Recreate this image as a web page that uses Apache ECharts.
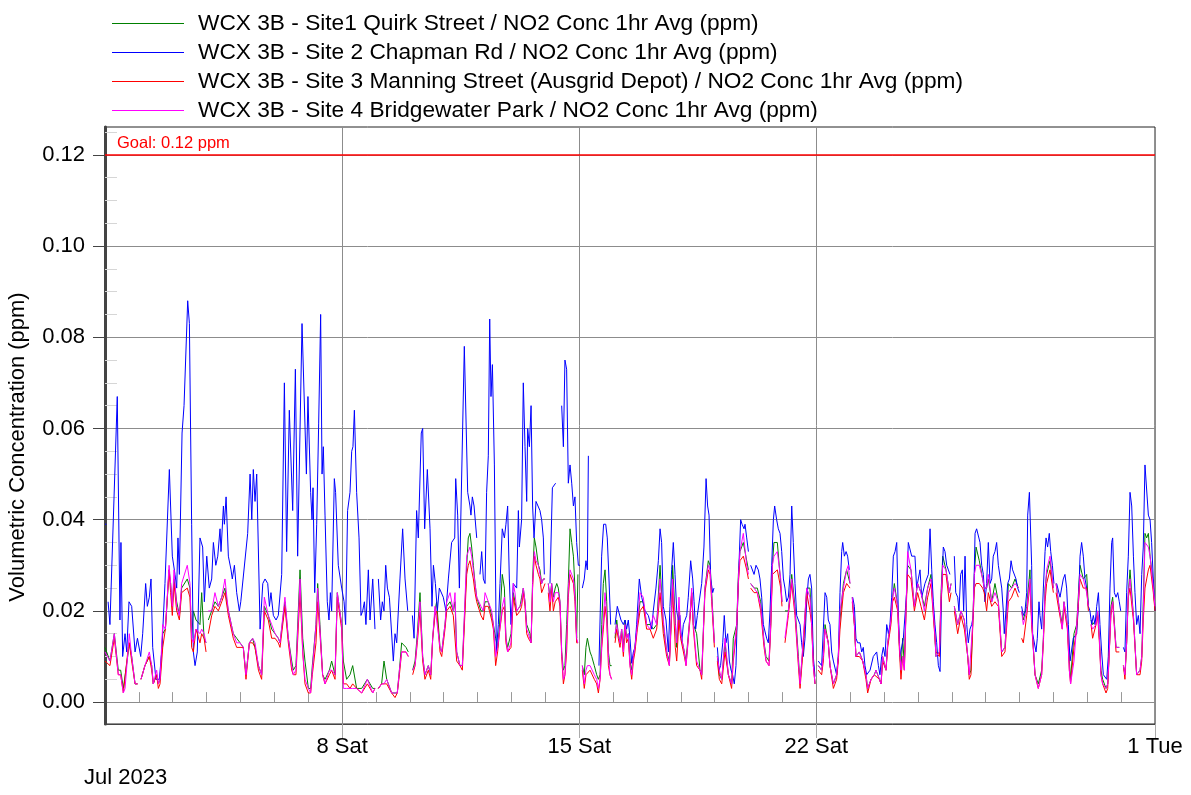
<!DOCTYPE html>
<html>
<head>
<meta charset="utf-8">
<title>WCX 3B NO2 Conc 1hr Avg</title>
<script src="https://cdn.jsdelivr.net/npm/echarts@6/dist/echarts.min.js"></script>
<style>
html, body { margin: 0; padding: 0; background: #fff; }
#chart { width: 1191px; height: 795px; }
</style>
</head>
<body>
<div id="chart"></div>
<script>
const fontFamily = 'Liberation Sans, Arial, sans-serif'

const seriesNames = [
  'WCX 3B - Site1 Quirk Street / NO2 Conc 1hr Avg (ppm)',
  'WCX 3B - Site 2 Chapman Rd / NO2 Conc 1hr Avg (ppm)',
  'WCX 3B - Site 3 Manning Street (Ausgrid Depot) / NO2 Conc 1hr Avg (ppm)',
  'WCX 3B - Site 4 Bridgewater Park / NO2 Conc 1hr Avg (ppm)'
]
const colors = ['#008000', '#0000ff', '#ff0000', '#ff00ff']

// x is hours since 1 Jul 2023 00:00
const tickHours = [168, 336, 504, 744]
const tickLabels = ['8 Sat', '15 Sat', '22 Sat', '1 Tue']
const dayHours = [24, 48, 72, 96, 120, 144, 192, 216, 240, 264, 288, 312, 360, 384, 408, 432, 456, 480, 528, 552, 576, 600, 624, 648, 672, 696, 720]
const yTicks = [0, 0.02, 0.04, 0.06, 0.08, 0.10, 0.12]
const yMinor = [0.005, 0.01, 0.015, 0.025, 0.03, 0.035, 0.045, 0.05, 0.055, 0.065, 0.07, 0.075, 0.085, 0.09, 0.095, 0.105, 0.11, 0.115, 0.125]
const goal = 0.12

// sites 1, 3, 4 share one time list
const lowHours = [
  0, 3.5, 6.6, 9.4, 11.1, 13, 14.2, 16.5, 17.2, 18.9, 21.3, 23.1, 24.2, 25.5, 28.3, 31.4, 33.1, 34.2, 36.6, 37.8,
  39, 40.9, 42.8, 45.4, 46.5, 47.7, 48.9, 50.8, 52.7, 54.3, 58.3, 60.2, 61.4, 62.6, 64.5, 67.3, 68.5, 70.2, 71.6, 72.4,
  73.2, 75.6, 77.9, 80.3, 82.7, 85, 87.4, 90.9, 93.3, 95.7, 98, 99.9, 102.3, 104.6, 106.3, 108.7, 111, 112.9, 115.7, 118.1,
  120.5, 122.8,
  124, 127.5, 129.9, 132.3, 133.4, 135.3, 138.2, 140.1, 141.7, 144.1, 145.7, 146.9, 149.5, 150.7, 152.3, 154.2, 155.9, 159, 160.6, 163,
  164.6, 167.7, 168.9, 171.2, 173.6, 175.5, 178.3, 181.9, 185.9, 189.7, 191.3, 192.5, 193.7, 196, 197.7, 199.6, 203.1, 205.5, 207.1, 208.6,
  210.2, 213.3, 214.9, 216, 218, 219.7, 221.3, 223.2, 225.1, 226.7, 229.1, 230.8, 232.2, 233.8, 235, 237.4, 238.6, 240.9, 242.1, 244.5,
  246.8,
  248, 249.2, 251.5, 253.2, 256.3, 257.4, 258.6, 259.8, 261, 262.2, 263.4, 266.4, 268.1, 269.3, 271.6, 274, 275.2, 276.8, 278.2, 279.4,
  281.5, 283, 284.1, 285.3, 287.7, 289.3, 290.5, 291.7, 292.9, 294.1, 295.2, 296.4, 297.6, 298.8, 300, 301.1, 301.9, 303, 304.2, 305.4,
  307.1, 308.2, 309.4, 310.6, 311.8, 312.8, 314.1, 315.3, 316.5, 317.7, 319, 320.1, 321.2, 322.4, 323.6, 324.8, 325.9, 327.1, 328.3, 329.5,
  330.7, 331.9, 333, 334.2, 335.1, 336.5, 338.2, 339.6, 340.8, 341.8, 343.7, 344.9, 346.7, 348.4, 349.6, 350.8, 352, 353.1, 354.3, 355.5,
  356.7, 357.8, 359, 360, 361.4, 362.6, 363.7, 364.9, 366.1, 367.3, 368.5, 369.6, 370.8, 372, 373.2, 374.4, 375.5,
  377.2, 379.1, 381.4, 383.8, 386.2, 388.5, 390.9, 393.3, 395.6, 398, 399.9, 401.5, 402.2, 404.1, 405.1, 406.7, 407.9, 410.5, 411.7, 414.5,
  415.7, 416.9, 419.2, 421.6, 422.8, 425.1, 427.5, 428.7, 429.9, 431.8, 432.5, 433.9, 435.3, 437, 439.3, 441.7, 444, 445.2, 447.6, 448.8,
  449.9, 452.3, 454.7, 455.9, 457, 457.5, 459.9, 462.2, 464.6, 467, 468.4, 470.5, 471.7, 472.9, 474, 476.4, 478.8, 479.7, 481, 481.8,
  484.2, 486.6, 488.9, 491.3, 492.5, 494.8, 497.2, 499.5,
  500.7, 501.9, 503.1, 504.5, 505.4, 507.8, 509, 510.2, 512.5, 513.7, 516.1, 518.4, 519.6, 520.8, 523.2, 525.5, 526.7, 527.9, 528.7, 529.5,
  531, 532.1, 534.5, 536.9, 539.2, 540.4, 542.8, 545.1, 546.3, 548.7, 549.9, 551, 553.4, 554.6, 556.9, 558.1, 559.3, 561.7, 562.8, 564,
  565.2, 566.4, 567.6, 568.7, 571.1, 573.5, 575.8, 578.2, 580.6, 582.9, 585.3, 587.6, 588.8, 591.2, 592.4, 593.6, 595.9, 598.3, 599.5, 600.5,
  601.8, 604.2, 606.5, 608.9, 611.3, 612.4, 613.6, 614.8, 616, 617.2, 619.5, 621.9, 623,
  624.7, 625.9, 628.3, 630.6, 633, 635.4, 637.7, 640.1, 642.4, 644.8, 647.2, 648.5, 649.5, 650.7, 653.1, 655.4, 656.6, 659, 661.3, 663.7,
  664.9, 666.1, 667.2, 669.6, 672, 673, 673.9, 676, 678.3, 679.5, 681.9, 683.3, 684.2, 686.6, 688.5, 690.9, 693.2, 695.6, 696.8, 697.8,
  698.7, 699.8, 702.2, 703.4, 704.6, 705.7, 706.9, 709.3, 710.5, 711.6, 712.8, 714, 716.4, 718.7, 720, 721.6, 722.7, 723.9, 725.1, 726.3,
  728.7, 731, 733.4, 734.6, 735.7, 736.9, 738.1, 739.3, 740.5, 742.8, 744
]

const site1 = [
  .012, .009, .015, .007, .007, .003, .003, .011, .013, .010, .004, .004, null, .005, .008, .010, .008, .004, .006, .004,
  .005, .015, .016, .029, .026, .021, .027, .022, .019, .025, .027, .025, .014, .020, .018, .017, .024, .014, .013, null,
  .018, .020, .022, .021, .023, .025, .020, .015, .014, .013, .012, .006, .013, .014, .012, .008, .006, .021, .019, .016,
  .015, .014,
  .013, .022, .014, .009, .007, .008, .029, .014, .009, .003, .003, .008, .017, .026, .017, .006, .005, .007, .009, .006,
  .024, .017, .009, .005, .006, .008, .003, .003, .005, .003, .003, null, .003, .004, .009, .005, .002, .002, .002, .007,
  .013, .012, .011, null, .007, .009, .015, .024, .010, .006, .008, .006, .014, .020, .022, .012, .011, .017, .021, .022,
  .020,
  .022, .011, .008, .008, .030, .036, .037, .034, .030, .026, .023, .020, .020, .022, .022, .019, .017, .014, .012, .016,
  .028, .025, .014, .012, .015, .024, .024, .020, .020, .021, .023, .025, .022, .017, .016, .015, .013, .027, .036, .034,
  .030, .029, .026, .027, .027, null, .026, .023, .026, .023, .025, .026, .025, .022, .011, .007, .008, .017, .026, .038,
  .035, .032, .025, .014, .028, null, .008, .006, .012, .014, .011, .010, .008, .006, .005, .006, .017, .026, .029, .022,
  .011, .008, .008, null, .014, .018, .015, .013, .016, .012, .018, .014, .015, .009, .007, .010, .012,
  .017, .022, .022, .017, .017, .016, .017, .030, .017, .011, .009, .020, .030, .018, .012, .020, .015, .011, .009, .019,
  .024, .017, .015, .007, .006, .025, .031, .030, .024, .013, null, .010, .006, .005, .013, .006, .004, .014, .017, .028,
  .033, .035, .031, .029, null, .026, .025, .025, .022, .013, .010, .009, .017, .030, .035, .035, .026, .022, null, .020,
  .020, .028, .021, .010, .004, .013, .025, .025,
  .018, .009, .004, null, .008, .007, .010, .017, .013, .008, .004, .006, .010, .018, .026, .029, .029, .026, null, .023,
  .017, .010, .011, .009, .006, .003, .005, .006, .007, .005, .004, .010, .007, .013, .018, .023, .026, .021, .013, .007,
  .014, .008, .021, .030, .029, .021, .026, .024, .021, .025, .028, .017, .010, .011, .024, .032, .029, .024, .026, null,
  .021, .017, .020, .018, .010, .006, .007, .017, .028, .034, .031, .027, .025,
  .025, .027, .022, .026, .022, .011, .012, .026, .025, .027, .025, null, .020, .018, .021, .029, .018, .006, .004, .007,
  .014, .025, .028, .031, .025, null, .026, .021, .017, .022, .017, .009, .005, .015, .017, .030, .027, .028, .021, null,
  .018, .017, .018, .020, .014, .007, .005, .003, .004, .011, .021, .023, .012, .012, null, .008, .006, .013, .024, .029,
  .019, .006, .007, .010, .022, .037, .036, .037, .032, .026, .020
]

const site3 = [
  .009, .008, .014, .006, .006, .002, .002, .012, .013, .009, .004, .004, null, .005, .008, .010, .007, .004, .006, .003,
  .004, .012, .016, .029, .024, .019, .026, .020, .018, .024, .025, .023, .012, .011, .016, .013, .015, .014, .011, null,
  .015, .019, .021, .020, .022, .024, .019, .014, .012, .012, .012, .005, .013, .013, .012, .007, .005, .020, .018, .014,
  .014, .013,
  .012, .021, .013, .007, .006, .006, .024, .011, .004, .002, .002, .006, .013, .022, .015, .006, .004, .006, .007, .005,
  .023, .016, .004, .004, .003, .004, .003, .002, .004, .002, .003, null, .003, .004, .004, .004, .002, .001, .002, .006,
  .011, .011, .010, null, .006, .008, .013, .020, .009, .005, .007, .005, .014, .019, .020, .011, .010, .016, .020, .021,
  .019,
  .019, .009, .008, .007, .028, .030, .031, .029, .027, .024, .022, .019, .018, .021, .021, .018, .016, .008, .011, .015,
  .020, .021, .013, .011, .012, .023, .023, .019, .019, .020, .021, .024, .021, .015, .014, .014, .013, .025, .032, .030,
  .028, .027, .024, .025, .026, null, .024, .020, .025, .020, .022, .022, .023, .021, .010, .004, .006, .011, .023, .028,
  .027, .026, .022, .013, .013, null, .007, .003, .006, .006, .007, .007, .005, .004, .002, .005, .012, .016, .021, .018,
  .008, .006, .005, null, .013, .016, .014, .012, .015, .010, .016, .013, .014, .008, .005, .009, .011,
  .016, .020, .021, .016, .016, .014, .016, .024, .015, .010, .008, .019, .025, .012, .009, .018, .014, .010, .008, .018,
  .024, .016, .008, .007, .005, .024, .029, .028, .022, .012, null, .009, .005, .004, .011, .006, .003, .009, .016, .026,
  .031, .032, .029, .027, null, .025, .024, .024, .020, .012, .009, .008, .016, .028, .028, .029, .025, .021, null, .013,
  .019, .026, .019, .008, .003, .012, .024, .020,
  .017, .008, .004, null, .007, .006, .009, .016, .013, .008, .003, .005, .009, .016, .024, .026, .026, .025, null, .022,
  .017, .010, .010, .009, .005, .002, .005, .006, .006, .005, .004, .009, .007, .012, .017, .022, .023, .020, .012, .005,
  .010, .007, .020, .028, .027, .020, .024, .021, .018, .023, .026, .016, .011, .010, .022, .028, .028, .022, .024, null,
  .020, .015, .019, .016, .010, .005, .006, .016, .025, .026, .026, .025, .024,
  .020, .024, .021, .022, .021, .010, .011, .022, .023, .025, .023, null, .014, .013, .019, .026, .017, .006, .003, .006,
  .013, .022, .026, .029, .024, null, .024, .020, .016, .021, .016, .007, .004, .012, .016, .027, .025, .025, .020, null,
  .017, .014, .017, .019, .013, .006, .004, .002, .003, .011, .019, .022, .011, .011, null, .008, .005, .013, .023, .025,
  .018, .006, .006, .009, .018, .025, .027, .029, .030, .024, .020
]

const site4 = [
  .011, .009, .015, .006, .006, .002, .003, .012, .015, .010, .004, .004, null, .005, .008, .011, .008, .004, .007, .004,
  .005, .017, .016, .030, .026, .021, .029, .021, .019, .026, .030, .026, .014, .013, .016, .015, .016, .015, .013, null,
  .020, .020, .024, .021, .023, .027, .020, .015, .013, .013, .012, .006, .013, .014, .013, .008, .006, .023, .019, .017,
  .015, .014,
  .013, .023, .014, .008, .006, .007, .027, .011, .005, .003, .002, .007, .017, .025, .016, .006, .004, .007, .007, .006,
  .024, .017, .003, .003, .003, .003, .003, .002, .005, .002, .003, null, .003, .004, .004, .005, .002, .002, .002, .007,
  .011, .011, .010, null, .007, .008, .014, .022, .010, .006, .008, .006, .014, .021, .021, .012, .011, .017, .022, .024,
  .020,
  .024, .011, .008, .008, .032, .033, .034, .032, .029, .026, .023, .021, .020, .024, .022, .020, .017, .010, .012, .015,
  .021, .023, .014, .011, .013, .026, .024, .020, .020, .021, .022, .025, .022, .016, .015, .015, .013, .026, .033, .031,
  .030, .028, .026, .027, .027, null, .026, .022, .026, .022, .024, .024, .024, .022, .011, .005, .006, .013, .025, .029,
  .028, .027, .023, .014, .013, null, .008, .004, .007, .008, .008, .008, .006, .005, .003, .005, .013, .018, .024, .019,
  .010, .006, .005, null, .015, .017, .015, .013, .016, .011, .017, .014, .015, .008, .006, .010, .012,
  .017, .024, .023, .017, .016, .019, .017, .027, .018, .011, .008, .021, .027, .017, .013, .023, .015, .011, .008, .019,
  .025, .017, .009, .007, .006, .025, .030, .029, .023, .013, null, .010, .007, .005, .014, .006, .004, .010, .017, .027,
  .033, .037, .030, .028, null, .026, .025, .024, .021, .013, .009, .008, .017, .030, .032, .033, .027, .022, null, .014,
  .020, .027, .020, .009, .004, .014, .025, .023,
  .017, .008, .004, null, .008, .007, .010, .016, .013, .008, .004, .006, .010, .020, .025, .029, .030, .026, null, .023,
  .017, .010, .011, .009, .006, .003, .005, .006, .007, .005, .004, .010, .007, .013, .018, .023, .025, .021, .013, .007,
  .010, .007, .021, .033, .029, .021, .026, .024, .020, .025, .027, .017, .010, .011, .023, .030, .029, .024, .026, null,
  .021, .017, .020, .018, .010, .006, .006, .017, .028, .030, .030, .027, .025,
  .025, .028, .022, .024, .022, .011, .012, .024, .025, .026, .025, null, .020, .017, .020, .027, .018, .006, .003, .006,
  .014, .024, .029, .032, .025, null, .026, .021, .016, .022, .017, .007, .004, .009, .017, .028, .027, .024, .021, null,
  .017, .016, .017, .020, .014, .006, .004, .003, .004, .011, .020, .022, .012, .012, null, .008, .006, .013, .024, .027,
  .019, .006, .007, .010, .020, .035, .035, .034, .032, .025, .021
]

// site 2 has its own gaps, kept as [hour, value]
const site2 = [
  [0, .039], [1, .039], [1.5, null], [2.2, .022], [3.5, .017], [8.7, .067], [10.6, .018], [11.3, .035], [12.5, .010], [14.2, .015],
  [15.4, .011], [17, .022], [18.9, .021], [21.3, .011], [23, .014], [25.3, .010], [26.7, .015], [28.8, .026], [30, .021], [31.4, .023],
  [32.6, .027], [33.8, .012], [36.1, .005], [38.5, .005], [40.2, .011], [42.5, .026], [45.6, .051], [46.5, .051], [47.7, .032], [49.6, .028],
  [50.8, .025], [51.7, .036], [52.7, .028], [54.6, .059], [56, .065], [58.6, .088], [59.8, .083], [61.4, .039], [62.6, .011], [63.8, .008],
  [65.4, .011], [67.3, .036], [69.2, .034], [70.4, .022], [72.1, .032], [73.9, .025], [75.6, .027], [76.8, .035], [78.5, .030], [79.9, .032],
  [81.5, .038], [82.2, .033], [83.9, .043], [84.6, .039], [85.8, .045], [87.4, .032], [89.3, .029], [90.2, .027], [91.7, .030], [93.3, .024],
  [95.2, .020], [96.2, .022], [101.1, .037], [102.8, .050], [104, .040], [105.1, .051], [106.3, .044], [107.5, .050], [109.9, .016], [111.8, .026],
  [113.4, .027], [115.3, .026], [116.5, .021], [117.6, .024], [119.3, .019], [121.2, .018], [122.8, .019], [125.2, .028], [127.1, .070],
  [128.7, .033], [130.6, .064], [133, .042], [134.9, .073], [136.5, .032], [139.6, .083], [142.7, .050], [143.8, .067], [145.7, .046], [146.7, .040],
  [147.4, .047], [148.6, .024], [150, .039], [151.4, .061], [152.8, .085], [153.8, .050], [154.7, .056], [155.9, .041], [157.5, .022], [158.7, .018],
  [159.7, .024], [160.6, .020], [162.5, .049], [163.4, .046], [165.3, .030], [167.7, .025], [169.4, .022], [170.5, .017], [171.9, .042], [173.6, .046],
  [174.8, .055], [175.7, .056], [176.7, .064], [178.3, .046], [180, .036], [181.4, .019], [182.6, .020], [183.8, .022], [184.9, .017], [186.6, .029],
  [187.8, .018], [189.7, .027], [191.3, .016], [192.5, null], [193.7, .027], [195.3, .018], [196.5, .022], [197.7, .020], [198.9, .030], [200.1, .025],
  [201.5, .023], [204.3, .009], [205.5, .015], [206.7, .013], [209, .027], [210.9, .038], [212.6, .027], [214.5, .020], [215.5, null], [217.8, .019],
  [219, .014], [220.8, .042], [222, .036], [224.1, .059], [225.1, .060], [226.5, .038], [228.4, .051], [230.3, .038], [231.7, .021], [232.7, .030],
  [234.1, .026], [235.5, .020], [236.9, .025], [239.7, .023], [241.6, .020], [243.3, .027], [245.6, .035], [247.8, .036], [248.5, .049], [249.9, .041],
  [251.1, .025], [254.6, .078], [257, .046], [258.6, .043], [259.3, .041], [260.3, .045], [261.5, .043], [263.4, .036], [264.5, null], [265.7, .028],
  [266.9, .033], [268.1, .027], [269.3, .026], [270.4, .046], [271.6, .054], [272.6, .084], [273.5, .067], [274.5, .074], [275.9, .052], [277.3, .011],
  [278.7, .017], [279.9, .026], [281.5, .038], [283, .036], [284.1, .039], [285.3, .043], [286.5, .027], [287.7, .017], [289.3, .026], [291.7, .025],
  [292.9, .042], [293.6, .034], [295.2, .040], [296.4, .070], [297.6, .056], [298.8, .044], [299.5, .060], [300.7, .056], [301.9, .065], [303, .043],
  [304, .036], [305.4, .044], [308.2, .042], [309.4, .040], [310.6, .036], [311.3, .028], [312.5, null], [315.3, .026], [317, .047], [319.3, .048],
  [320.5, null], [323.6, .065], [324.8, .056], [325.9, .075], [327.1, .073], [328.3, .048], [329.5, .052], [330.7, .048], [331.9, .043], [333, .045],
  [334.2, .035], [335.4, .030], [336.6, .030], [337.5, null], [338.2, .025], [339.6, .027], [340.8, .031], [341.8, .029], [342.5, .054], [343.5, null],
  [350, .008], [351.9, .032], [353.3, .039], [354.8, .039], [355.9, .036], [357.1, .027], [358.3, .017], [359.5, null], [361.4, .017], [363, .021],
  [364.2, .021], [365.6, .018], [367.3, .017], [368.5, .018], [369.6, .016], [370.8, .018], [372, .014], [373.2, .0085], [374.4, .011], [375.5, .012],
  [376.7, .017], [378.6, .027], [380.3, .023], [382.6, .020], [385, .019], [387.4, .016], [388.5, .020], [390.4, .025], [392.1, .031], [393.3, .038],
  [394.4, .035], [395.6, .021], [397.5, .018], [399.2, .011], [400.3, .021], [401.5, .029], [402.7, .035], [403.9, .028], [405.1, .020], [406.2, .018],
  [407.4, .019], [408.6, .013], [409.8, .017], [412.2, .019], [413.3, .023], [415, .031], [416.4, .027], [417.4, .022], [418.5, .016], [419.7, .019],
  [421.1, .019], [422.8, .026], [424.4, .034], [425.9, .049], [427, .043], [428, .041], [429.2, .027], [430.6, .024], [431.5, .025], [432.5, null],
  [433.9, .012], [435.1, .007], [436.2, .008], [437.7, .013], [438.8, .019], [440, .013], [441.2, .015], [442.4, .009], [443.6, .007], [444.7, .006],
  [445.9, .004], [447.1, .008], [448.1, .020], [449.2, .030], [450.4, .040], [451.4, .039], [452.8, .038], [453.5, .039], [454.7, .036], [455.9, .033],
  [457, null], [457.5, .030], [459.9, .028], [461.3, .030], [462.9, .029], [464.1, .027], [465.3, .023], [466.5, .017], [468.8, .014], [470, .013],
  [471.2, .020], [472.4, .030], [473.6, .040], [474.5, .043], [475.9, .040], [477.1, .038], [478.3, .037], [479.5, .033], [480.7, .027], [481.8, .025],
  [483, .022], [484.2, .023], [485.4, .028], [486.6, .043], [487.7, .035], [488.9, .026], [490.1, .019], [492.5, .017], [493.6, .013], [494.8, .010],
  [496, .014], [497.2, .022], [498.4, .027], [499.5, .028], [500.7, .025], [501.9, .010], [503.1, .0056], [504.5, null], [505.4, .009], [507.8, .008],
  [509, .016], [510.2, .024], [511.4, .023], [512.5, .018], [513.7, .017], [514.9, .011], [516.1, .009], [518.4, .006], [519.6, .010], [520.8, .024],
  [522, .033], [522.7, .035], [523.9, .032], [525.1, .033], [526.2, .032], [527.4, .029], [528.5, null], [529.8, .023], [531, .021], [532.1, .014],
  [533.3, .013], [535, .013], [536.2, .011], [537.3, .012], [538.5, .008], [539.7, .006], [542.1, .007], [544.4, .010], [546.8, .011], [548, .008],
  [549.1, .006], [550.3, .010], [551.5, .012], [552.7, .010], [553.9, .017], [555.1, .015], [556.2, .017], [557.4, .023], [558.6, .032], [559.8, .033],
  [561, .035], [562.1, .020], [563.3, .010], [564.5, .010], [565.7, .014], [566.9, .014], [568, .024], [569.2, .035], [570.4, .035], [571.6, .032],
  [572.8, .032], [573.9, .032], [575.1, .025], [576.3, .027], [577.5, .029], [578.7, .023], [581, .026], [583.4, .028], [584.6, .038], [585.8, .029],
  [586.9, .022], [588.1, .017], [589.3, .013], [590.5, .008], [591.7, .0067], [592.8, .024], [594, .034], [595.2, .033], [596.4, .030], [597.6, .029],
  [598.7, .028], [600, null], [601.8, .032], [602.8, .024], [604.2, .023], [605.1, .020], [606.3, .028], [607.5, .029], [608.4, .020], [609.4, .032],
  [610.6, .017], [611.7, .013], [612.9, .016], [614.1, .017], [615.3, .019], [616.5, .037], [617.6, .038], [618.8, .038], [620, .035], [621.2, .030],
  [622.4, .028], [623.5, .022], [624.7, .026], [625.9, .035], [627.1, .026], [628.3, .027], [629.4, .032], [630.6, .033], [631.8, .035], [633, .030],
  [634.2, .030], [635.4, .025], [636.5, .020], [637.2, .015], [638.4, .020], [639.6, .026], [640.8, .027], [642, .031], [643.1, .029], [645.5, .027],
  [646.7, .025], [647.9, .024], [649, null], [649.5, .021], [650.7, .019], [651.9, .020], [653.1, .024], [653.8, .041], [655, .046], [655.9, .046],
  [656.6, .030], [657.3, .015], [658.5, .015], [659.7, .011], [660.6, .014], [661.8, .022], [662.5, .019], [663.7, .016], [664.9, .025], [666.1, .033],
  [666.8, .036], [667.9, .034], [669.1, .037], [670.1, .033], [671.3, .030], [672.4, .026], [673.5, null], [674.3, .026], [676.7, .023], [679, .027],
  [680.2, .028], [681.4, .025], [682.6, .017], [683.8, .009], [685, .009], [686.1, .014], [688.5, .015], [689.7, .021], [690.9, .032], [692, .035],
  [693.2, .032], [694.4, .027], [695.6, .025], [696.8, .021], [697.9, .020], [699.1, .017], [700.3, .019], [701.5, .017], [702.7, .021], [703.9, .024],
  [705, .017], [706.2, .011], [707.4, .006], [709.8, .005], [710.9, .010], [712.1, .025], [713.3, .035], [714, .036], [715.2, .024], [716.4, .023],
  [717.6, .024], [718.7, .022], [719.7, .020], [720.5, null], [721.6, .012], [722.7, .011], [723.9, .024], [725.1, .032], [726.3, .046], [727.5, .043],
  [728.7, .032], [729.8, .024], [731, .017], [732.2, .019], [733.4, .015], [734.6, .028], [735.7, .034], [736.9, .052], [738.1, .052], [739.3, .041],
  [740.5, .040], [741.6, .035], [742.8, .027], [744, .020]
]

function toPoints (hours, values) {
  return hours.map((h, i) => [h, values[i] === null ? '-' : values[i]])
}

const chart = echarts.init(document.getElementById('chart'))

const yMin = -0.0048
const yMax = 0.1261
const labelSize = 22

const lineSeries = (name, data, color) => ({
  name: name,
  type: 'line',
  data: data,
  showSymbol: false,
  symbol: 'none',
  connectNulls: false,
  color: color,
  itemStyle: { color: color },
  lineStyle: { color: color, width: 1 },
  emphasis: { disabled: true }
})

const option = {
  animation: false,
  color: colors,
  textStyle: { fontFamily: fontFamily },
  grid: {
    left: 105, right: 36, top: 127, bottom: 71,
    show: true, borderColor: '#222', borderWidth: 1, backgroundColor: '#fff'
  },
  legend: {
    orient: 'vertical',
    left: 107,
    top: 7,
    icon: 'rect',
    itemWidth: 72,
    itemHeight: 1,
    itemGap: 6,
    textStyle: { fontSize: 22.7, lineHeight: 23, color: '#000', fontFamily: fontFamily, padding: [0, 0, 0, 9] },
    // explicit colours so the thin sample lines keep the series colour
    data: seriesNames.map((name, i) => ({
      name: name,
      itemStyle: { color: colors[i], borderWidth: 0, opacity: 1 }
    }))
  },
  xAxis: [{
    type: 'value',
    min: 0,
    max: 744,
    axisLine: { show: true, onZero: false, lineStyle: { color: '#444' } },
    axisTick: { show: true, customValues: tickHours, length: 14, lineStyle: { color: '#aaa' } },
    axisLabel: {
      customValues: tickHours,
      formatter: v => tickLabels[tickHours.indexOf(v)],
      fontSize: labelSize, color: '#000', margin: 12, fontFamily: fontFamily
    },
    splitLine: { show: true, lineStyle: { color: '#8c8c8c', width: 1 } }
  }, {
    type: 'value',
    min: 0,
    max: 744,
    position: 'bottom',
    axisLine: { show: false },
    axisLabel: { show: false },
    splitLine: { show: false },
    axisTick: { show: true, inside: true, customValues: dayHours, length: 10, lineStyle: { color: '#999' } }
  }],
  yAxis: [{
    type: 'value',
    min: yMin,
    max: yMax,
    axisLine: { show: true, onZero: false, lineStyle: { color: '#666', width: 2 } },
    axisTick: { show: true, customValues: yTicks, length: 12, lineStyle: { color: '#444' } },
    axisLabel: {
      customValues: yTicks,
      formatter: v => v.toFixed(2),
      fontSize: labelSize, color: '#000', margin: 20, fontFamily: fontFamily
    },
    splitLine: { show: true, lineStyle: { color: '#8c8c8c', width: 1 } }
  }, {
    type: 'value',
    min: yMin,
    max: yMax,
    position: 'left',
    axisLine: { show: false },
    axisLabel: { show: false },
    splitLine: { show: false },
    axisTick: { show: true, inside: true, customValues: yMinor, length: 12, lineStyle: { color: '#d6d6d6' } }
  }, {
    // heavier right frame edge
    type: 'value',
    min: yMin,
    max: yMax,
    position: 'right',
    axisLine: { show: true, lineStyle: { color: '#444', width: 3 } },
    axisLabel: { show: false },
    axisTick: { show: false },
    splitLine: { show: false }
  }],
  graphic: [{
    type: 'text',
    x: 18,
    y: 447,
    rotation: Math.PI / 2,
    style: {
      text: 'Volumetric Concentration (ppm)',
      fill: '#000',
      font: labelSize + 'px ' + fontFamily,
      align: 'center',
      verticalAlign: 'middle'
    }
  }, {
    type: 'text',
    left: 84,
    top: 767,
    style: { text: 'Jul 2023', fill: '#000', font: labelSize + 'px ' + fontFamily }
  }],
  series: [
    lineSeries(seriesNames[0], toPoints(lowHours, site1), colors[0]),
    lineSeries(seriesNames[1], site2.map(p => [p[0], p[1] === null ? '-' : p[1]]), colors[1]),
    lineSeries(seriesNames[2], toPoints(lowHours, site3), colors[2]),
    Object.assign(lineSeries(seriesNames[3], toPoints(lowHours, site4), colors[3]), {
      markLine: {
        silent: true,
        symbol: 'none',
        data: [{ yAxis: goal }],
        lineStyle: { color: '#ff0000', type: 'solid', width: 1.5 },
        label: {
          position: 'insideStartTop',
          formatter: 'Goal: ' + goal.toFixed(2) + ' ppm',
          color: '#ff0000',
          fontSize: 16.5,
          fontFamily: fontFamily,
          distance: [12, 3]
        }
      }
    })
  ]
}

option && chart.setOption(option)
</script>
</body>
</html>
